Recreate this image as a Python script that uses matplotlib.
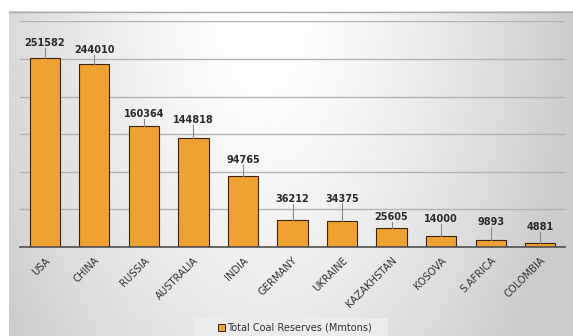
import numpy as np
import matplotlib
matplotlib.use("Agg")
import matplotlib.pyplot as plt
from matplotlib.patches import Rectangle

countries = ["USA", "CHINA", "RUSSIA", "AUSTRALIA", "INDIA", "GERMANY",
             "UKRAINE", "KAZAKHSTAN", "KOSOVA", "S.AFRICA", "COLOMBIA"]
reserves = [251582, 244010, 160364, 144818, 94765, 36212,
            34375, 25605, 14000, 9893, 4881]
# vertical gap between bar top and its value label (data units)
label_gap = [20000, 18000, 16000, 24000, 21000, 28000,
             30000, 14000, 23000, 23000, 22000]
series_name = "Total Coal Reserves (Mmtons)"

W, H = 573, 336
fig = plt.figure(figsize=(W / 100, H / 100), dpi=100)
fig.patch.set_facecolor("white")

# gradient panel behind the chart
bg = fig.add_axes([9 / W, 0, 1 - 9 / W, 1 - 11 / H])
bg.set_axis_off()
ny, nx = 200, 400
yy, xx = np.mgrid[0:1:ny * 1j, 0:1:nx * 1j]
d = np.sqrt(((xx - 0.45) / 0.55) ** 2 + (yy / 1.7) ** 2)
shade = np.clip(1.0 - 0.2 * d ** 1.5, 0.80, 1.0)
bg.imshow(shade, cmap="gray", vmin=0, vmax=1, aspect="auto",
          extent=[0, 1, 1, 0], interpolation="bicubic")
bg.set_xlim(0, 1)
bg.set_ylim(1, 0)
bg.axhline(0.002, color="#aaaaaa", lw=1.0)

ax = fig.add_axes([20 / W, 1 - 247 / H, 545 / W, (247 - 21.4) / H])
ax.patch.set_alpha(0)
x = np.arange(len(countries))
ax.bar(x, reserves, width=0.61, color="#EFA131", edgecolor="#3a2508",
       linewidth=0.8, zorder=3, label=series_name)
ax.set_xlim(-0.5, len(countries) - 0.5)
ax.set_ylim(0, 300000)
ax.set_yticks(np.arange(0, 300001, 50000))
ax.yaxis.grid(True, color="#b4b4b4", lw=1.0, zorder=0)
ax.tick_params(axis="y", left=False, labelleft=False)
for s in ["top", "right", "left"]:
    ax.spines[s].set_visible(False)
ax.spines["bottom"].set_color("#505050")
ax.spines["bottom"].set_linewidth(1.2)
ax.spines["bottom"].set_zorder(4)

ax.set_xticks(x)
ax.set_xticklabels(countries, rotation=45, ha="right", va="top",
                   rotation_mode="anchor", fontsize=7.2, color="#333333")
ax.tick_params(axis="x", length=0, pad=6)

for xi, v, g in zip(x, reserves, label_gap):
    ty = v + g
    ax.text(xi, ty, f"{v}", ha="center", va="center", fontsize=7,
            fontweight="bold", color="#2b2b2b", zorder=5)
    line_top = ty - 6500
    if line_top > v + 1000:
        ax.plot([xi, xi], [v, line_top], color="#8a8a8a", lw=0.8, zorder=4)

# legend box at the bottom
lx0, ly0, lw_, lh_ = 193, 318, 195, 18
fig.patches.append(Rectangle((lx0 / W, 1 - (ly0 + lh_) / H), lw_ / W, lh_ / H,
                             transform=fig.transFigure, facecolor="#ececec",
                             edgecolor="none", zorder=1))
fig.patches.append(Rectangle((218 / W, 1 - 331 / H), 7 / W, 7 / H,
                             transform=fig.transFigure, facecolor="#EFA131",
                             edgecolor="#3a2508", lw=0.7, zorder=2))
fig.text(227 / W, 1 - 327.5 / H, series_name, ha="left", va="center",
         fontsize=7, color="#333333")

fig.savefig("out.png", dpi=100)
